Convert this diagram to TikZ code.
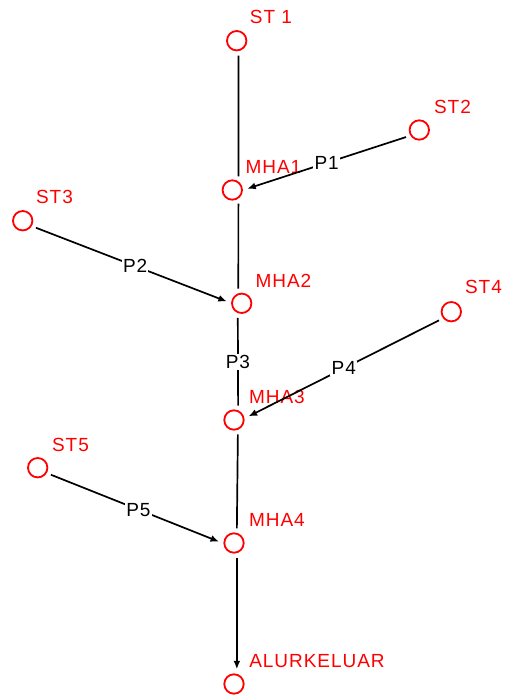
\documentclass[tikz,border=0pt]{standalone}
\usepackage{fontspec}
\setmainfont{Liberation Sans}[LetterSpace=5]
\usetikzlibrary{arrows.meta}
\begin{document}
\begin{tikzpicture}[x=1pt,y=-1pt,
  font=\fontsize{19}{21}\selectfont,
  junction/.style={circle,draw=red,line width=1.8pt,minimum size=19.4pt,inner sep=0pt,outer sep=5.3pt},
  tag/.style={text=red,inner sep=0pt},
  pipe/.style={line width=1.7pt,black},
  flow/.style={pipe,-{Latex[length=8.5pt,width=7pt]}},
  pname/.style={fill=white,inner sep=1.2pt,text=black}]
\useasboundingbox (0,0) rectangle (504,697);

% stations and junctions
\node[junction] (st1)  at (236.7,40.7)  {};
\node[junction] (st2)  at (419.3,130.0) {};
\node[junction] (mha1) at (232.3,190.0) {};
\node[junction] (st3)  at (22.7,220.7)  {};
\node[junction] (mha2) at (241.7,303.3) {};
\node[junction] (st4)  at (451.3,311.7) {};
\node[junction] (mha3) at (234.0,420.0) {};
\node[junction] (st5)  at (37.7,467.7)  {};
\node[junction] (mha4) at (234.0,543.0) {};
\node[junction] (out)  at (234.0,684.0) {};

% names
\node[tag] (st1-t)  at (271.0,16.5)  {ST 1};
\node[tag] (st2-t)  at (452.5,107.3) {ST2};
\node[tag] (mha1-t) at (273.5,167.0) {MHA1};
\node[tag] (st3-t)  at (54.5,196.7)  {ST3};
\node[tag] (mha2-t) at (283.5,281.0) {MHA2};
\node[tag] (st4-t)  at (483.5,287.3) {ST4};
\node[tag] (mha3-t) at (277.0,396.7) {MHA3};
\node[tag] (st5-t)  at (70.5,445.0)  {ST5};
\node[tag] (mha4-t) at (277.0,520.0) {MHA4};
\node[tag] (out-t)  at (317.0,661.5) {ALURKELUAR};

% main trunk
\draw[pipe] (st1.-83) -- (mha1.66);
\draw[pipe] (mha1.-66) -- (mha2.103);
\draw[pipe] (mha2.-105) -- node[pname,pos=0.5] (p3) {P3} (mha3.74);
\draw[pipe] (mha3.-75) -- (mha4.79);
\draw[flow] (mha4.-79) -- (out.79);

% branches
\draw[flow] (st2.-152) -- node[pname,pos=0.5] (p1) {P1} (mha1.5);
\draw[flow] (st3.-28.5) -- node[pname,pos=0.52] (p2) {P2} (mha2.173);
\draw[flow] (st4.-145) -- node[pname,pos=0.5] (p4) {P4} (mha3.14.6);
\draw[flow] (st5.-28) -- node[pname,pos=0.52] (p5) {P5} (mha4.175);
\end{tikzpicture}
\end{document}
